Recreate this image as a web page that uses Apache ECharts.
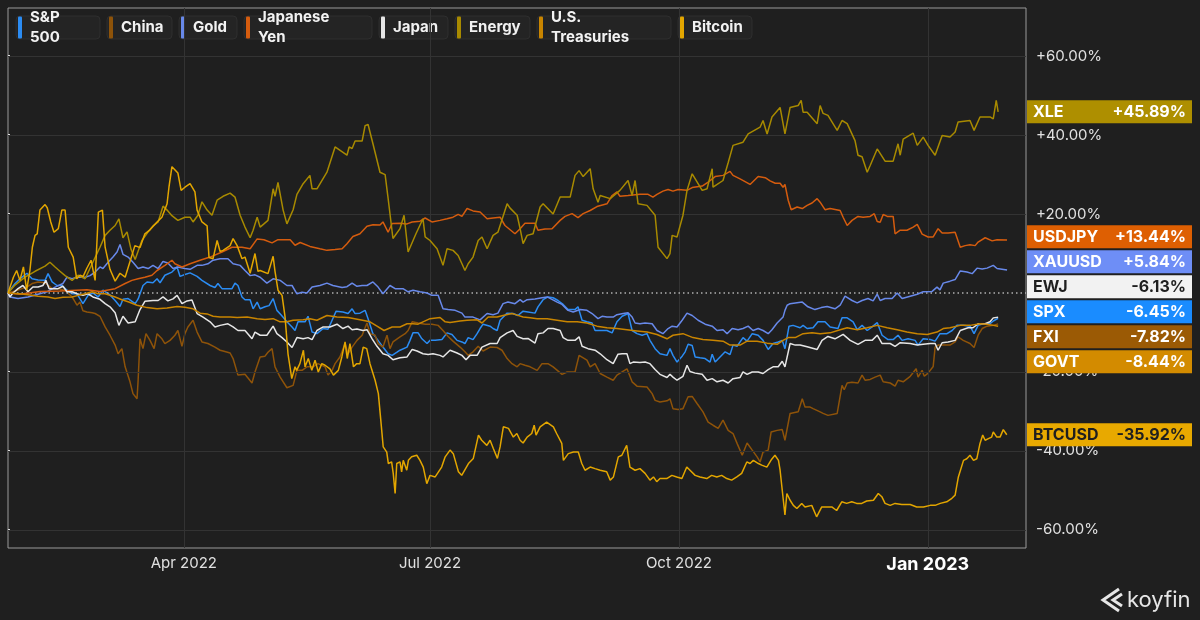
<!DOCTYPE html>
<html><head><meta charset="utf-8">
<script src="https://cdn.jsdelivr.net/npm/echarts@6/dist/echarts.min.js"></script>
<style>html,body{margin:0;padding:0;background:#1f1f1f;}#c{width:1200px;height:620px;}</style>
</head><body><div id="c"></div>
<script>
// ---------------- DATA (x = days since 2022-01-26, y = % change) ----------------
const tickDays = [65, 156, 248, 340];
const tickLabels = ['Apr 2022', 'Jul 2022', 'Oct 2022', 'Jan 2023'];
const yTicks = [-60, -40, -20, 0, 20, 40, 60];
const legendNames = ['S&P\n500', 'China', 'Gold', 'Japanese\nYen', 'Japan', 'Energy', 'U.S.\nTreasuries', 'Bitcoin'];
const tickers = ['SPX', 'FXI', 'XAUUSD', 'USDJPY', 'EWJ', 'XLE', 'GOVT', 'BTCUSD'];

const spx = [[0,0],[2.6,2.4],[4.4,3.6],[7,5],[8.9,3.6],[11.1,3.3],[13.7,3.2],[14.8,4.9],[16.3,2.8],[18.1,1.9],[20,1.9],[21.8,0.7],[23.7,-0.2],[25.5,-0.2],[27.7,-2.7],[29.6,-0.6],[31.4,0],[33.3,-1],[35.1,0.7],[37.7,-0.5],[39.6,-1.9],[41.4,-3.4],[42.5,-1.6],[44.4,-1.4],[47,-2.7],[48.1,-1.5],[49.9,1.9],[51.4,2.8],[53.6,2.6],[55.1,3.6],[56.2,2.6],[58,4.5],[60.6,5.3],[62.5,6.6],[63.6,4.2],[65.4,4.7],[67.3,5.1],[69.9,4.2],[71.7,3.2],[74.7,1.9],[76.5,1.4],[77.6,2.4],[79.1,1.1],[82.8,1.1],[83.9,2.5],[85,1.9],[86.5,-1],[87.6,-1.7],[89.5,-1.7],[90.6,-4],[92.1,-2.3],[93.2,-4],[95,-3.5],[96.5,-3.2],[98,-1.4],[99.4,-4.4],[100.9,-5.5],[103.1,-7.3],[105,-8.6],[106.1,-9.5],[107.2,-7.3],[109.8,-7.3],[110.9,-5.9],[112.4,-9.9],[114.2,-10.3],[116.5,-9],[118.3,-9.2],[119.8,-6.9],[121.3,-4.6],[123.8,-4.8],[125.7,-5.2],[127.2,-4],[128.3,-5.2],[130.1,-5.1],[132,-4.4],[133.1,-6.5],[134.9,-10.3],[136.8,-12],[138.6,-13.7],[140.5,-15.4],[142,-15.8],[143.8,-15],[144.9,-14.5],[147.5,-13.7],[148.6,-12],[149.7,-10.1],[151.6,-10.1],[153,-11.6],[154.9,-12.8],[156,-12],[157.9,-12],[160.4,-11.8],[162.3,-10.1],[164.1,-10.5],[166,-12],[167.8,-12.4],[168.9,-12.8],[170.1,-11.3],[171.9,-11.8],[173.4,-10.3],[174.5,-9],[175.6,-7.9],[178.2,-8.4],[179.3,-9],[180.8,-9.5],[181.9,-6.9],[184.5,-5.1],[186.7,-5.2],[188.5,-5.7],[190.4,-4.6],[192.2,-4.8],[194.8,-5.1],[195.9,-3.5],[197.8,-1.7],[199.6,-1],[201.5,-1.2],[203.3,-1.9],[205.2,-2.9],[207,-4.2],[209.6,-4.2],[210.7,-3.5],[212.2,-6.9],[214,-7.3],[215.9,-7.6],[217,-9.5],[218.9,-9.5],[221.4,-9.5],[223.3,-10.1],[225.1,-7.3],[227,-5.9],[229.2,-5.2],[230.7,-9.5],[232.5,-10.3],[234.4,-10.7],[236.2,-10.3],[237.3,-12],[239.2,-14.1],[241,-15.4],[243.6,-15.8],[244.7,-14.1],[245.8,-15.8],[247.3,-17.5],[249.2,-16],[250.3,-14.9],[251.4,-13],[252.9,-13.3],[254,-16.2],[255.8,-16.4],[257.7,-16.6],[259.5,-17.5],[260.3,-15.5],[261.4,-17.5],[263.2,-16.2],[265.1,-14.9],[266.9,-15.6],[268,-13.2],[269.5,-13.5],[271.7,-11.3],[273.2,-12.2],[275.1,-10.3],[277.3,-10.7],[279.1,-12],[281,-14.3],[282.8,-12.8],[284.7,-12.4],[286.2,-12],[287.2,-14.1],[288.7,-8.4],[290.2,-8.2],[292.8,-8.8],[293.9,-8.2],[295.4,-9],[297.6,-8.8],[299.4,-7.3],[302,-7.3],[303.9,-8.6],[306.8,-9],[308.3,-6.3],[310.2,-6.3],[312.4,-7.3],[313.9,-9.3],[315.7,-8.2],[317.6,-9.5],[319.4,-8.6],[321.3,-7.5],[323.1,-10.7],[325.3,-11.8],[327.2,-11.8],[329,-10.7],[330.5,-12],[332.7,-11.6],[335.3,-12],[336.4,-13.2],[338.3,-11.6],[340.9,-11.8],[342.7,-12.2],[344.5,-10.3],[347.1,-10.3],[349,-9.5],[350.8,-8.2],[353.1,-8.2],[355.6,-8.4],[357.1,-10.3],[358.6,-8.2],[360.5,-7.8],[363,-7.8],[364.2,-7.1],[366,-6.45]];

const fxi = [[0,0],[2.6,0.5],[5.2,1.1],[7,1.5],[8.9,2.4],[11.1,2.8],[13.7,2.6],[16.3,1.1],[18.5,1.1],[21.1,0.7],[23.7,-1],[25.5,-3.1],[26.6,-2.3],[27.7,-4.5],[29.2,-4.8],[31.1,-5],[32.2,-5.2],[34,-5.9],[35.9,-8.6],[37.7,-10.7],[39.6,-13.2],[40.7,-15.4],[42.1,-14.1],[43.3,-18.7],[45.1,-22.5],[46.2,-25.5],[47.7,-26.8],[48.1,-22.1],[48.8,-11.6],[49.9,-14.1],[51,-10.3],[52.5,-12],[54,-14.1],[55.1,-10.3],[56.9,-11.6],[58,-12.8],[59.9,-12],[61.7,-10.7],[62.8,-9.5],[64.3,-13.5],[65.4,-10.3],[66.5,-8.6],[68.4,-6.9],[69.9,-9.9],[71.7,-12.4],[73.9,-12.8],[76.5,-13.7],[78.4,-14.5],[79.5,-14.7],[82.1,-15.2],[83.2,-16.6],[85,-20.8],[87.6,-20.6],[90.2,-22.8],[91.3,-20],[93.2,-16.2],[95,-16],[96.1,-15],[97.6,-14.1],[98.7,-18.7],[100.6,-21.3],[103.1,-24],[105.4,-23.4],[106.8,-19.6],[108.7,-19.6],[110.5,-18.7],[112.8,-18.7],[114.6,-17.9],[117.2,-18.7],[118.3,-20.8],[119.8,-19.6],[120.9,-17.9],[122.7,-16.2],[124.6,-12.8],[125.7,-15.4],[127.2,-13.7],[129,-12],[130.9,-10.7],[132.7,-7.6],[133.8,-10.3],[135.7,-10.7],[136.8,-12.8],[138.6,-13.7],[140.1,-10.7],[141.2,-14.1],[142.3,-12.4],[144.9,-11.1],[146.8,-10.3],[147.9,-9.5],[149.4,-7.3],[151.6,-7.6],[154.2,-7.9],[156.7,-7.9],[159,-8.2],[160.8,-9.5],[162.7,-11],[164.5,-12.2],[167.1,-13.7],[168.9,-14.9],[170.1,-15.8],[171.9,-14.9],[173.8,-13.5],[175.6,-14.7],[178.2,-13.7],[180.8,-13.8],[182.6,-14.5],[184.5,-16.6],[186.3,-17.9],[188.2,-18.7],[189.3,-17.9],[191.1,-18.3],[193,-18.7],[195.6,-19.6],[197.4,-17.9],[199.6,-17.9],[201.5,-18.7],[204.8,-20.6],[206.7,-20],[209.6,-20],[211.1,-15.8],[214,-17],[215.2,-18.7],[217,-17.9],[218.9,-20.4],[221.4,-21.3],[223.7,-22.1],[225.1,-20.8],[227,-20],[228.8,-19.2],[230.7,-22.5],[232.5,-23.6],[236.2,-23.8],[238.1,-25.5],[239.2,-27.2],[241,-27.6],[243.6,-27.3],[244.7,-26.8],[245.8,-29.3],[247.7,-29.5],[249.5,-29.3],[251.4,-26.3],[252.9,-26.2],[254.7,-28],[256.9,-30.1],[258.8,-32.7],[260.6,-33.5],[262.5,-34.3],[264.3,-32.2],[266.2,-34.8],[268,-35.6],[269.5,-38.1],[271.4,-41.1],[273.2,-38],[275.1,-39.8],[276.9,-41.5],[278,-42.8],[279.1,-40.3],[281,-39.8],[282.1,-35.2],[284.3,-34.8],[286.2,-34.6],[287.2,-37.3],[289.1,-30.5],[292.1,-30.1],[293.6,-26.8],[294.6,-28.9],[296.5,-28.9],[297.6,-29.3],[300.2,-30.1],[301.3,-30.5],[303.1,-31],[306.5,-30.5],[308.3,-23.4],[309.1,-24.5],[310.2,-22.8],[312,-22.6],[314.2,-22.8],[315.7,-20.8],[316.8,-22.1],[318.7,-21.9],[320.5,-21.3],[322.4,-20.8],[323.5,-22.5],[326.1,-22.8],[327.9,-23.6],[329,-22.1],[330.9,-22.5],[333.5,-21.1],[335.7,-19.2],[336.4,-21.3],[337.9,-19.6],[338.7,-21.1],[340.1,-20.3],[342,-18.6],[342.7,-13.7],[343.8,-13.2],[345.7,-13.2],[348.2,-13.2],[350.1,-12.4],[351.2,-11.1],[353.1,-12],[355.6,-12.8],[357.1,-13.8],[358.6,-10.7],[360.1,-9],[361.9,-8.4],[364.2,-8.2],[366,-7.82]];

const xau = [[0,0],[0.7,-1],[3.7,-1.4],[7.4,-1],[11.1,-0.3],[14.4,0.3],[17.4,1.5],[20.3,2.4],[21.8,4],[23.7,3.6],[25.5,4],[28.5,4],[30.3,4.4],[32.2,5.3],[34,6.6],[35.1,6.2],[37,7.8],[38.8,9.1],[40.3,10.4],[41.4,12.3],[42.5,9.8],[44.4,9.1],[46.2,7.8],[48.1,6.2],[48.8,5.8],[49.9,6.6],[51.8,6.2],[53.6,7],[55.5,6.2],[57.3,8],[59.1,7.6],[61,6.2],[62.8,6.6],[65.4,6.2],[67.3,6],[69.9,7],[71.7,7],[73.9,7.4],[75.8,8.3],[78.4,8.7],[81.3,8.7],[83.2,7.4],[85.8,7],[87.6,5.7],[89.5,4.4],[91.3,4.6],[93.2,4],[95.7,2.5],[98,3.6],[100.6,3.2],[103.1,1.9],[105,1.9],[106.8,-0.2],[108.7,0.2],[110.5,0],[112.4,1.5],[115.3,1.9],[117.9,2.5],[120.1,1.9],[123.5,1.4],[125.3,1.6],[127.2,2.5],[129,1.7],[130.9,1.9],[132.7,1.9],[134.9,2.8],[136.8,1.5],[138.6,-0.2],[141.2,1.9],[143.1,1.1],[146,1.1],[147.9,0.3],[149.7,0.7],[152.3,0.3],[154.9,0],[156.7,-0.6],[159,-0.6],[160.8,-4],[162.7,-4.2],[165.3,-4.4],[167.8,-5.1],[168.9,-6.1],[171.9,-6.1],[174.5,-6.8],[177.1,-5.2],[179.3,-5.5],[181.1,-5.1],[183,-2.7],[184.8,-2.3],[187.4,-2.7],[189.3,-1.7],[190.4,-2.3],[191.9,-1.7],[194.8,-1.5],[197.4,-1.2],[199.3,-1],[203,-2.3],[204.8,-2.9],[207,-4.4],[208.9,-4.8],[211.5,-4.2],[214,-4.4],[215.9,-5.2],[218.1,-6.5],[219.6,-5.9],[221.4,-6.1],[223.7,-6.1],[225.1,-5.5],[227.4,-5.2],[229.2,-5],[230.7,-6.1],[231.8,-7.6],[233.6,-7.8],[235.5,-7.6],[238.1,-7.8],[239.9,-9.5],[242.1,-10.3],[244,-9],[245.5,-8.4],[247.3,-8.6],[249.2,-6.9],[251,-5.1],[252.9,-5.7],[255.1,-6.9],[257.7,-7.9],[260.3,-8.4],[262.1,-9.5],[264.3,-9.3],[265.8,-10.3],[267.7,-9],[269.9,-9.3],[271.7,-9],[273.6,-8.4],[275.4,-9.5],[277.3,-9],[279.1,-9.5],[281,-10.3],[282.4,-9.3],[284.3,-7.6],[286.5,-6.1],[287.2,-4.4],[288,-3.1],[289.1,-2.7],[289.8,-2.7],[293.6,-2.3],[295.7,-3.5],[298.3,-4.2],[300.6,-3.7],[302.8,-3.4],[305.7,-4],[307.6,-3.1],[309.4,-0.8],[312,-1.9],[313.9,-2.5],[315.7,-1.9],[317.9,-1.4],[319.8,-2],[321.3,-0.3],[322.4,-1.9],[324.2,-1.4],[326.8,-1.4],[328.7,0],[330.5,-1.4],[333.5,-0.8],[336.1,-0.3],[338.3,0.3],[341.6,0.4],[343.4,1.5],[344.5,0.8],[345.7,2.5],[348.2,3],[350.1,3.4],[352,5.6],[354.5,5.3],[356.4,4.9],[358.2,6.3],[360.1,6.1],[361.9,6.3],[364.2,7],[365.6,6.2],[369.3,5.84]];

const jpy = [[0,0],[4.4,-0.3],[11.8,0.4],[19.2,0.5],[29.2,0.8],[34,0.4],[39.6,1.1],[43.3,2.4],[45.8,3.2],[48.1,3.6],[50.6,4],[53.2,4.5],[55.1,5.7],[58,7],[60.6,8.3],[61.7,7.4],[64.3,6.6],[67.3,7.4],[71,8.3],[74.7,9.1],[79.1,10.4],[82.8,11.6],[86.5,11.6],[89.5,11.2],[92.1,13.7],[94.6,13.5],[97.6,12.7],[99.8,13.5],[104.3,13.5],[106.1,12.1],[108,12.8],[111.6,11.8],[115.3,11.2],[117.9,10.8],[120.9,11],[123.5,11.2],[125.3,12.5],[127.5,14.3],[130.1,15],[132.7,16.9],[134.9,17.3],[137.5,17.2],[138.6,18],[140.5,15.4],[142,17.6],[144.9,17.7],[147.5,17.5],[149.4,18],[152.3,18.2],[154.2,19],[156.7,18],[159.7,18.4],[162.3,18.8],[164.5,19.2],[166.4,19.9],[167.8,19.4],[169.7,21.4],[171.9,20.8],[174.5,20.5],[177.1,18.8],[179.3,19],[181.9,19.2],[183.7,17.1],[187.4,15],[189.3,16.3],[191.1,17.7],[194.8,17.7],[195.9,15.9],[198.5,16.2],[201.1,16.3],[204.1,18.4],[205.9,19.4],[208.5,20.1],[210.7,19.1],[212.6,20.1],[215.2,20.9],[217.7,21.9],[221.4,22.6],[223.3,24.7],[225.1,25.6],[226.2,24.5],[229.2,24.7],[231.8,24.9],[233.6,25],[236.6,25],[238.4,24.3],[239.9,25],[242.1,25.8],[244,26.2],[245.8,25.8],[247.7,26.2],[251,26],[252.9,26.7],[256.6,27.1],[258.8,28.1],[261.4,29.5],[264.3,29.8],[266.9,30.8],[268,29.8],[270.6,28.9],[274.3,27.5],[277.3,29.5],[279.9,29.2],[281.7,28.4],[283.6,27.8],[285.4,27.8],[286.5,26.8],[287.2,27.5],[288.4,23.5],[289.5,21.1],[291.7,21.8],[293.6,21.4],[295.4,22.2],[297.2,22.8],[299.1,23.9],[300.2,23],[302,21.1],[303.9,21.4],[307.6,20.9],[308.7,19.2],[310.2,17.1],[312,18.4],[314.2,19.4],[316.1,19.2],[318.7,19.4],[320.2,20.1],[321.3,18.1],[322.4,17.9],[323.5,19.9],[325,19.4],[327.2,19.4],[327.9,15],[329.8,15.9],[332.3,15.9],[334.6,16.7],[336.1,17.4],[337.9,14.9],[340.1,14.2],[342,14.2],[343.8,16.3],[345.3,15.2],[347.5,15.2],[350.1,15.4],[352,11.6],[353.8,12],[355.6,12.2],[357.5,12],[358.6,12.9],[361.2,14],[363.8,13.2],[365.6,13.5],[369.3,13.44]];

const ewj = [[0,0],[0.7,-1],[1.8,0],[3.7,1.1],[5.5,1.9],[7.4,0.3],[9.2,1.5],[11.1,1.5],[12.9,1.9],[14,3.2],[15.2,1.1],[16.6,1.1],[18.5,1.1],[20.3,1.7],[21.8,0.3],[23.7,0.3],[25.5,-0.2],[27.7,-0.6],[29.6,-0.2],[31.4,-1],[34,-1.6],[35.9,-2.7],[37.7,-3.5],[39.6,-5],[41,-8.2],[42.5,-5.9],[44.4,-7.6],[47,-7.3],[48.8,-4.2],[50.6,-2.1],[53.6,-1.9],[55.5,-1.9],[57.3,-1],[59.1,-2],[61,-1.5],[62.5,-0.6],[64.3,-2.7],[66.2,-2],[68,-1.8],[69.9,-5.2],[72.1,-6.1],[74.7,-7.3],[76.5,-8.6],[78.4,-8.2],[81.3,-7.8],[83.2,-8.6],[85,-9.5],[87.6,-9.5],[90.2,-11.6],[91.3,-9.9],[93.2,-10.7],[95.7,-10.7],[98,-8.4],[99.4,-10.3],[101.3,-11.3],[103.1,-12.4],[105,-13.8],[106.8,-11.3],[109.1,-11.6],[110.9,-11.3],[112.4,-11.8],[114.2,-9.5],[116.5,-8.6],[119,-8.6],[121.6,-7.9],[123.8,-9],[125.7,-8.4],[127.2,-9.3],[129,-9.1],[131.2,-9.5],[132.7,-9.3],[134.6,-11.6],[136.4,-13.5],[138.6,-15.4],[140.5,-15.8],[142.3,-16.9],[144.9,-16.4],[147.5,-16.2],[149.4,-14.3],[151.2,-14.7],[153.4,-15.4],[155.3,-15.6],[157.1,-15.4],[159.7,-15.8],[160.8,-16.2],[163.4,-14.5],[166,-15.2],[167.8,-15.8],[169.3,-16.9],[170.8,-15.8],[173.4,-15.8],[175.2,-13.7],[178.2,-12.8],[180.8,-12.8],[181.9,-11.3],[184.5,-10.1],[186.7,-9.5],[188.2,-11],[190.4,-11.6],[192.2,-11.5],[194.8,-12.7],[195.9,-10.3],[197.8,-10.1],[199.6,-9],[201.5,-9],[204.1,-9.5],[205.2,-11.3],[207,-12],[209.6,-12],[211.1,-11.1],[212.2,-13.5],[214.4,-14.1],[217,-14.5],[218.9,-15.4],[221.4,-16.9],[223.7,-17.9],[225.5,-15.5],[227,-15.4],[228.8,-15.4],[229.9,-17.9],[231.1,-17.5],[233.6,-17.6],[235.5,-17.5],[237.3,-17.9],[239.2,-19.4],[241,-20.6],[243.6,-21.4],[244.7,-20.6],[245.8,-21.3],[247.3,-22.1],[249.5,-21.1],[251,-18.3],[252.1,-19.9],[254,-20.3],[256.6,-20.6],[258.4,-22.1],[260.3,-21.7],[262.1,-22.5],[264.3,-22.1],[266.2,-22.8],[268,-21.7],[270.6,-21.4],[271.7,-20],[273.2,-20.6],[275.1,-20],[277.3,-20],[279.1,-20.4],[281,-19.4],[282.8,-18.7],[284.7,-18.7],[286.2,-17.3],[287.2,-18.7],[289.1,-12.8],[291,-13.2],[292.8,-13.2],[295.4,-13.6],[299.1,-14.3],[300.9,-12],[303.1,-11],[305.7,-11.6],[308.7,-10.5],[311.3,-12],[314.2,-13],[316.8,-12],[319.4,-12],[321.3,-10.7],[323.1,-12.8],[326.1,-12.8],[327.9,-13.5],[329.8,-12.6],[333.5,-12.8],[336.1,-13.2],[338.3,-13],[340.9,-12.8],[342.7,-12.8],[343.8,-14.5],[345.3,-12.6],[347.5,-12.4],[350.1,-12],[352,-9.5],[354.9,-8.8],[356.7,-8.8],[358.6,-7.8],[361.2,-7.8],[363,-7.3],[364.2,-6.3],[366,-6.13]];

const xle = [[0,0],[2.6,2],[6.3,4],[10,5.5],[13.7,6.8],[15.5,7.8],[17.4,6.6],[19.2,5.5],[21.1,4.4],[23.7,3.2],[25.9,4.5],[28.5,3.6],[31.1,7.4],[34,11.6],[35.9,14.6],[37.7,15.9],[39.6,17.1],[41,18.8],[42.5,14],[44,15.5],[45.5,11],[47,8.5],[49.5,13.3],[51.8,15.5],[53.6,17],[55.5,18],[57.3,22],[58.8,21],[60.6,19.6],[62.8,18.4],[65.4,19.2],[67.3,19.2],[68.4,18],[70.2,19.7],[71.7,23.1],[73.6,21],[75.4,19.7],[77.3,23.5],[79.5,24.5],[82.1,25.3],[83.9,24.3],[85.8,19.7],[87.6,16.7],[89.5,14],[90.6,15.9],[92.1,19.2],[93.2,16.7],[94.6,17.5],[96.1,18.4],[98,26.4],[98.7,24.5],[99.8,28],[101.7,21],[103.1,17.5],[105.4,21.1],[106.8,25],[109.1,27.7],[111.6,29.8],[112.4,26.4],[114.2,26.4],[117.9,30.6],[120.9,37],[125.3,34.9],[126.1,37],[127.2,36.6],[128.3,38.5],[130.9,38.5],[132,42.4],[133.1,42.7],[134.9,37.8],[137.5,30.6],[139.4,30],[140.5,24],[142.3,13.8],[144.9,16.3],[146.4,19.7],[147.9,10.4],[150.8,15],[153.4,18.8],[154.2,14.2],[156,13.3],[158.6,11.2],[160.8,7],[162.3,11.2],[164.5,10.8],[166.4,9.5],[167.8,7.4],[168.9,5.7],[170.1,7.4],[171.9,9.1],[173.8,13.3],[175.2,14.2],[177.1,11.2],[179.3,14.6],[181.1,15.4],[184.5,22.6],[185.6,21.5],[188.2,19.7],[189.3,16.3],[190.4,12.5],[191.9,14.6],[194.1,15],[196.7,21.8],[197.8,22.6],[201.5,20],[204.1,24.3],[207.8,24.3],[209.6,29.8],[211.1,31],[212.6,29.5],[215.2,31.5],[216.3,26.4],[218.1,23],[218.9,24.7],[222.6,23.9],[226.2,26],[229.2,28.5],[230.7,24.7],[231.8,28.5],[232.9,22.6],[236.2,22.2],[239.2,19.7],[240.3,11.6],[243.6,8.7],[244.7,10],[245.5,14.6],[247.3,14.2],[249.5,19.7],[251,26],[252.9,30.2],[256.6,26],[258.4,26.4],[260.3,31.5],[260.6,26.8],[264.3,28.5],[266.2,33],[268,37.4],[271.7,38.2],[273.6,40.3],[278,42],[279.1,43.7],[280.6,40.3],[282.4,44.6],[285.4,47],[287.2,40.3],[289.1,47],[292.1,47.5],[293.2,48.8],[293.9,45.8],[295.4,45.8],[299.1,42.9],[300.2,47.5],[301.3,45.5],[303.1,45],[306.5,41.2],[308.3,43.7],[310.2,42.9],[313.1,38.6],[314.2,34.9],[315.7,34.5],[317.6,30.6],[318.7,32.3],[321.3,36.5],[324.2,33.4],[327.2,33.4],[329,37.8],[329.8,34.9],[330.9,39],[334.6,40.5],[336.1,37.4],[338.3,39.5],[340.1,37.4],[342.7,34.9],[345.3,39.9],[348.2,39.5],[350.1,40.8],[351.2,43.3],[355.6,43.7],[357.1,41.2],[359.3,44.6],[363,44.6],[364.2,44.1],[365.3,48.8],[366,45.89]];

const govt = [[0,0],[4.4,-0.2],[8.1,-0.5],[11.1,-0.8],[14.8,-1],[17.4,-1.4],[20.3,-1.1],[23.7,-1],[25.9,-0.6],[28.5,-0.2],[31.1,0.3],[33.3,-0.2],[35.9,-0.2],[39.6,-1],[42.1,-1.7],[44.4,-2.2],[47.7,-3.1],[51.4,-3.7],[55.1,-4],[58.8,-3.8],[62.5,-3.4],[65.4,-3.6],[68.4,-4],[71,-5.1],[73.6,-5.3],[75.8,-5.9],[78.4,-6.1],[82.1,-6.1],[84.7,-6.2],[88.4,-6.1],[92.1,-6.5],[95,-6.7],[98,-6.5],[100.6,-7.3],[103.1,-7.3],[105.4,-6.9],[109.1,-6.8],[111.6,-6.5],[114.2,-6.9],[117.9,-5.7],[121.6,-6.1],[125.7,-6.2],[130.1,-6.8],[133.8,-7.3],[136.4,-8.4],[139,-9.5],[142,-8.6],[144.9,-8.6],[147.5,-7.8],[149.7,-7.8],[151.6,-7.9],[153.4,-7.3],[156,-6.5],[159.7,-6.2],[161.6,-7.3],[163.4,-7.5],[167.1,-7.1],[169.7,-6.9],[173.4,-6.8],[175.2,-7.6],[177.5,-6.1],[180.8,-6.1],[183,-5.7],[186.3,-5.2],[188.2,-5.6],[190.4,-6.1],[193,-6.3],[195.6,-6.5],[199.3,-6.5],[203,-6.9],[206.7,-7.3],[210.4,-7.3],[214,-7.6],[217.7,-8.4],[221.4,-8.8],[225.1,-9],[228.8,-9.3],[232.5,-9.6],[236.2,-9.9],[239.9,-10.5],[243.6,-11.6],[245.8,-10.7],[249.5,-10.3],[253.2,-11.3],[256.9,-11.8],[260.6,-12],[264.3,-12.2],[266.9,-13.2],[270.6,-13.2],[273.2,-12.2],[276.9,-12.2],[280.6,-12.7],[284.3,-13],[286.5,-12],[288.4,-11.3],[291,-11.3],[293.9,-10.3],[297.2,-10.1],[300.2,-10.3],[303.9,-10.1],[307.6,-9.3],[310.2,-8.8],[313.9,-9.3],[317.6,-8.8],[321.3,-8.2],[325,-8.8],[328.7,-9.3],[332.3,-9.9],[336.1,-10.3],[339.8,-10.5],[343.4,-9.9],[345.7,-9],[348.2,-8.8],[352,-8.2],[355.6,-8.2],[359.3,-7.8],[361.9,-7.9],[364.2,-8.2],[366,-8.44]];

const btc = [[0,0],[2,4],[3.2,5.7],[4.4,3.2],[5.7,6.6],[6.9,0.7],[8.1,5.7],[9,11.6],[10,14.6],[10.8,15],[11.8,21],[13.7,22.4],[14.5,21.6],[15.8,18],[17,15.4],[18.6,16.3],[19.9,21],[21.1,21],[22.3,11.6],[24.1,9.1],[25.4,3.6],[26.6,4.5],[27.8,4.2],[29.1,6.2],[30.7,8.3],[32.2,3.2],[33.4,20.5],[34.9,21],[35.9,11.6],[37.7,6],[39.6,3],[41.4,5],[43.3,4],[45.1,8],[46.9,12],[48.8,11.5],[50.6,15],[52.5,16],[55.1,18],[56.9,19.2],[58.8,22.6],[59.5,26.8],[60.6,32],[62.8,30.4],[64,26],[65.4,26.8],[67.3,27.7],[69.1,25.6],[69.9,21],[71.7,18],[73.6,17],[74.3,9],[75.8,8.7],[77.3,13.3],[78.4,10.5],[79.5,10.8],[82.1,12],[83.2,13.8],[84.7,12],[86.5,8.7],[87.6,9.1],[89.5,5],[91.3,10],[92.4,5.5],[93.2,5.7],[96.1,4.9],[98,9.3],[98.7,5.5],[99.8,0.7],[101.3,-0.6],[102.4,-6],[103.5,-15.4],[104.9,-21.7],[106.1,-18.7],[106.7,-19.6],[107.9,-17.9],[109.2,-14.5],[109.8,-18.7],[111,-16.6],[112.3,-19.6],[113.5,-17],[114.7,-20],[116,-17.9],[117.2,-18.3],[119,-19.2],[120.3,-20.8],[122.1,-19.6],[123.4,-16.2],[124.6,-12.4],[125.4,-16.6],[126.4,-12.8],[127.7,-18.7],[128.9,-17.9],[130.1,-17.9],[131.3,-13.7],[132.6,-14.1],[133.8,-17.9],[135.7,-22.1],[136.9,-25.5],[137.8,-32.2],[138.7,-39],[140,-40.3],[140.6,-43.2],[141.8,-42.8],[142.4,-45.7],[143.1,-50.8],[143.7,-43.2],[144.9,-42.8],[145.5,-45.3],[146.1,-42.4],[147.4,-44.9],[148,-42.4],[149.2,-41.5],[151.1,-41.1],[152.3,-42.4],[153.5,-44.1],[154.8,-48.3],[156,-46.2],[157.9,-46.6],[160.3,-44.1],[161.6,-41.5],[163.4,-39.8],[164.6,-40.7],[166.5,-45.3],[167.7,-46.2],[170.2,-43.2],[172,-41.9],[173.9,-36],[175.1,-37.3],[177,-38.6],[178.2,-37.3],[179.4,-39.4],[180.9,-41.9],[181.9,-39],[183.1,-33.9],[185,-34.3],[186.8,-36.5],[188.1,-35.6],[189.3,-37.3],[190.4,-38],[191.9,-36.5],[193.6,-35.6],[194.5,-33.5],[195.2,-36],[196.7,-33.9],[199.1,-32.7],[201.6,-33.9],[202.8,-35.6],[204.7,-38.1],[205.3,-42.4],[207.1,-40.7],[209,-40.3],[210.8,-40.3],[212.1,-43.2],[213.3,-44.9],[215.2,-44.1],[217,-44.5],[218.9,-44.9],[221.3,-45.3],[222.6,-47.4],[223.8,-46.6],[225.6,-41.5],[226.9,-41.1],[228.7,-38.6],[229.9,-44.1],[231.8,-44.9],[233.6,-44.5],[235.5,-45.7],[237.3,-47.4],[238.6,-46.6],[239.8,-47.8],[241,-47],[243.5,-47],[245.4,-46.2],[247.2,-46.6],[249.1,-47],[250.9,-44.1],[252.1,-44.9],[254,-46.2],[255.8,-46.6],[258.3,-47],[260.1,-46.2],[262,-46.6],[263.8,-46.2],[265.7,-47],[267.5,-47.4],[269.4,-46.6],[271.2,-45.7],[273.1,-42.8],[274.3,-43.2],[275.5,-42.4],[277.4,-43.2],[278.6,-43.6],[280.5,-44.1],[282.3,-42.1],[283.5,-41.1],[284.8,-42.4],[285.4,-44.9],[286.6,-52.5],[287.2,-56.2],[287.9,-50.8],[289.1,-52.5],[290.3,-53.8],[291.6,-54.6],[293.4,-53.3],[294.6,-54.2],[297.1,-53.8],[298.9,-56.7],[300.8,-54.2],[302.6,-54.2],[304.5,-54.2],[306.3,-55.1],[308.2,-52.9],[310,-53.3],[311.9,-52.9],[313.7,-53.3],[315.6,-53.3],[317.4,-52.7],[319.9,-52.5],[321.7,-50.8],[323,-51.6],[324.2,-53.3],[326.1,-53.8],[327.9,-53.3],[330.4,-53.6],[333.5,-53.6],[335.9,-54.2],[338.4,-54.2],[340.9,-53.8],[342.7,-53.8],[344.6,-53.3],[347,-52.9],[348.9,-52],[350.1,-51.2],[351.3,-46.6],[353.2,-42.4],[354.4,-42],[355.6,-41.1],[356.9,-42.4],[358.1,-42],[359.3,-38.1],[360.3,-36],[361.2,-37.3],[362.4,-36.9],[363.6,-36.5],[364.2,-35.2],[365.5,-36.5],[366.7,-36.5],[367.9,-34.6],[369.2,-35.92]];

// ---------------- STYLE / LAYOUT ----------------
const seriesList = [spx, fxi, xau, jpy, ewj, xle, govt, btc];
const lineColors = ['#2b8cf3', '#8e5309', '#6889ea', '#d55c0e', '#e6e6e6', '#a88a00', '#c98500', '#e3a600'];
const tagColors  = ['#1a8cff', '#9b5a05', '#6e8ef6', '#de5f02', '#f2f2f2', '#ae8f00', '#d38b00', '#e8a900'];
const tagText    = ['#ffffff', '#ffffff', '#ffffff', '#ffffff', '#1f1f1f', '#ffffff', '#ffffff', '#1f1f1f'];
const legendTextW = [69, 50, 43, 113, 54, 60, 119, 59];
const FONT = 'Inter, "Liberation Sans", Arial, sans-serif';
const X_MAX = 376.3, Y_MIN = -64.6, Y_MAX = 72.2;
const fmtPct = v => (v > 0 ? '+' : '') + v.toFixed(2) + '%';

const chart = echarts.init(document.getElementById('c'));

const gridLines = tickDays.map(d => ({ xAxis: d })).concat(yTicks.filter(v => v !== 0).map(v => ({ yAxis: v })));

const series = seriesList.map((d, i) => ({
  name: legendNames[i],
  type: 'line',
  data: d,
  symbol: 'none',
  showSymbol: false,
  silent: true,
  lineStyle: { width: 1.5, color: lineColors[i] },
  itemStyle: { color: lineColors[i] },
  emphasis: { disabled: true },
  z: 3 + i
}));
series[0].markLine = {
  silent: true, symbol: 'none', label: { show: false }, animation: false,
  lineStyle: { color: '#333333', width: 1, type: 'solid' },
  data: gridLines.concat([{ yAxis: 0, lineStyle: { color: '#b0b0b0', width: 1.5, type: [1.5, 3] } }])
};

// legend background boxes (marker sits on the box's left edge)
const legendBoxes = [];
let lx = 18;
legendNames.forEach((n, i) => {
  const itemW = 4 + 5 + 3 + legendTextW[i];
  legendBoxes.push({
    type: 'rect', z: 1, silent: true,
    shape: { x: lx - 2, y: 16, width: itemW + 3, height: 23, r: 4 },
    style: { fill: '#242424', stroke: '#2e2e2e', lineWidth: 1 }
  });
  lx += itemW + 10;
});

const option = {
  backgroundColor: '#1f1f1f',
  animation: false,
  textStyle: { fontFamily: FONT },
  grid: { left: 8, right: 174, top: 8, bottom: 72, show: true, borderColor: '#9a9a9a', borderWidth: 1 },
  xAxis: {
    type: 'value', min: 0, max: X_MAX,
    axisLine: { show: false },
    splitLine: { show: false },
    axisTick: { show: true, customValues: tickDays, length: 5, lineStyle: { color: '#9a9a9a' } },
    axisLabel: {
      customValues: tickDays, margin: 8, color: '#e0e0e0', fontSize: 15, fontFamily: FONT,
      formatter: v => { const k = tickDays.indexOf(v); const t = k >= 0 ? tickLabels[k] : ''; return k === 3 ? '{b|' + t + '}' : t; },
      rich: { b: { fontWeight: 'bold', fontSize: 18, color: '#ffffff', fontFamily: FONT } }
    }
  },
  yAxis: {
    type: 'value', position: 'right', min: Y_MIN, max: Y_MAX,
    axisLine: { show: false },
    splitLine: { show: false },
    axisTick: { show: true, customValues: yTicks, length: 2, lineStyle: { color: '#dddddd', width: 2 } },
    axisLabel: { customValues: yTicks, margin: 10, color: '#e0e0e0', fontSize: 15, fontFamily: FONT, formatter: v => fmtPct(v) }
  },
  legend: {
    left: 18, top: 7.5, padding: 0, itemGap: 10, itemWidth: 4, itemHeight: 22,
    icon: 'roundRect', selectedMode: false, orient: 'horizontal', align: 'left',
    itemStyle: { borderWidth: 0 },
    textStyle: { color: '#f2f2f2', fontSize: 15, fontWeight: 'bold', lineHeight: 20, fontFamily: FONT, padding: [0, 0, 0, 3] },
    data: legendNames.map((n, i) => ({ name: n, textStyle: { width: legendTextW[i], overflow: 'none', padding: [0, 0, 0, 3] } }))
  },
  series: series,
  graphic: legendBoxes
};
chart.setOption(option);

// ---- end-of-line value tags on the right axis, placed via the library's y scale ----
const items = seriesList.map((d, i) => {
  const last = d[d.length - 1];
  return { i: i, v: last[1], y: chart.convertToPixel({ gridIndex: 0 }, [0, last[1]])[1] };
}).sort((a, b) => a.y - b.y);
const GAP = 25, H = 23;
let clusters = items.map(it => ({ items: [it] }));
const topOf = c => c.items.reduce((s, it, k) => s + it.y - k * GAP, 0) / c.items.length;
let merged = true;
while (merged) {
  merged = false;
  for (let k = 0; k < clusters.length - 1; k++) {
    const a = clusters[k], b = clusters[k + 1];
    if (topOf(a) + a.items.length * GAP > topOf(b)) {
      a.items = a.items.concat(b.items); clusters.splice(k + 1, 1); merged = true; break;
    }
  }
}
const tags = [];
clusters.forEach(c => {
  const t = topOf(c);
  c.items.forEach((it, k) => {
    const cy = t + k * GAP;
    tags.push({ type: 'rect', z: 100, silent: true, shape: { x: 1027, y: cy - H / 2, width: 165, height: H }, style: { fill: tagColors[it.i] } });
    tags.push({ type: 'text', z: 101, silent: true, x: 1033, y: cy, style: { text: tickers[it.i], fill: tagText[it.i], font: 'bold 16px ' + FONT, align: 'left', verticalAlign: 'middle' } });
    tags.push({ type: 'text', z: 101, silent: true, x: 1186, y: cy, style: { text: fmtPct(it.v), fill: tagText[it.i], font: 'bold 16px ' + FONT, align: 'right', verticalAlign: 'middle' } });
  });
});

// koyfin watermark
const logo = [
  { type: 'polyline', z: 101, silent: true, shape: { points: [[1119, 589], [1103, 600], [1119, 611]] }, style: { stroke: '#e6e6e6', lineWidth: 3, fill: null, lineJoin: 'miter' } },
  { type: 'polyline', z: 101, silent: true, shape: { points: [[1122, 594], [1113, 600], [1122, 606]] }, style: { stroke: '#e6e6e6', lineWidth: 3, fill: null, lineJoin: 'miter' } },
  { type: 'text', z: 101, silent: true, x: 1127, y: 600, style: { text: 'koyfin', fill: '#e6e6e6', font: '22px ' + FONT, align: 'left', verticalAlign: 'middle' } }
];

chart.setOption({ graphic: legendBoxes.concat(tags, logo) });
</script>
</body></html>
